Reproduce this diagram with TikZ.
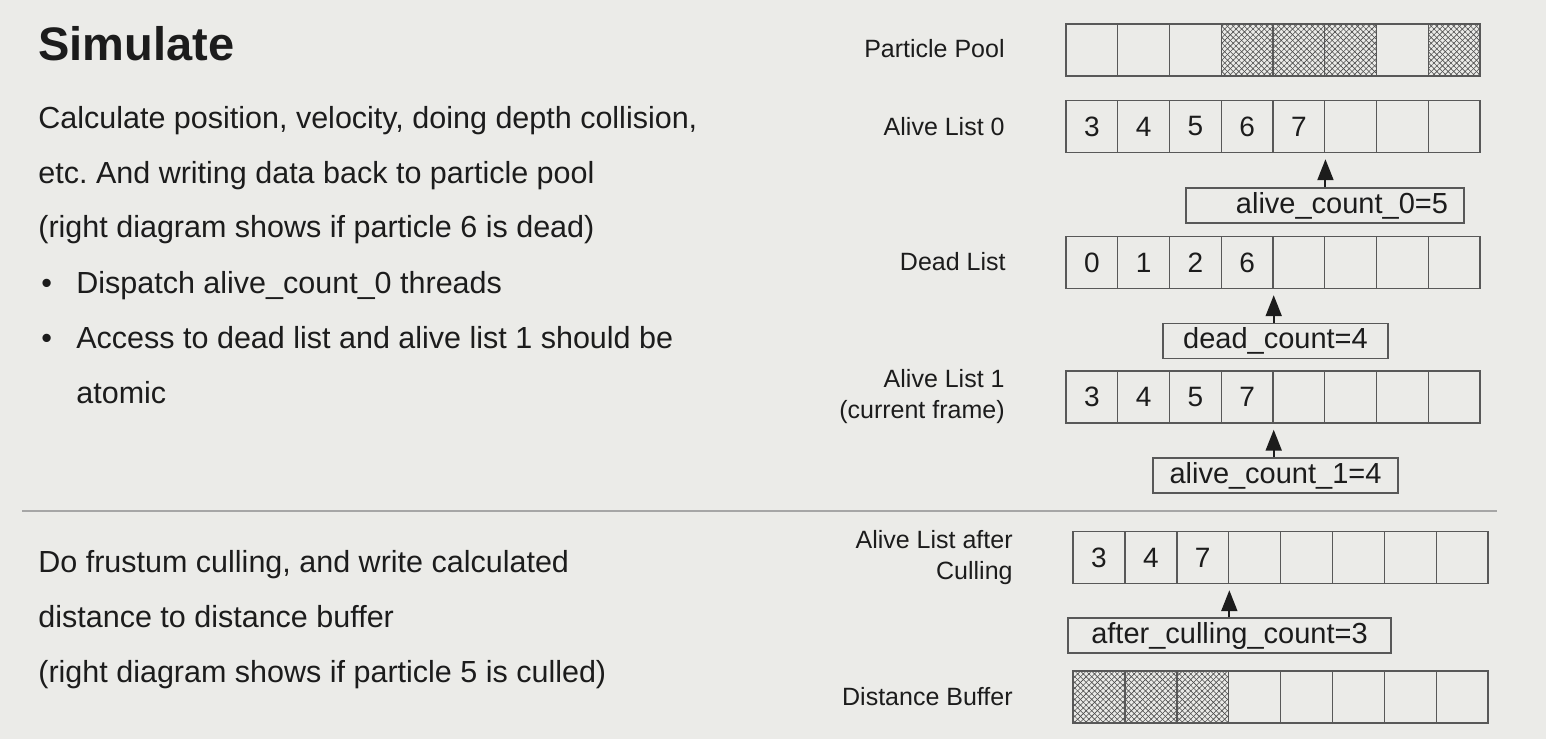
\documentclass[tikz,border=0pt]{standalone}
\usepackage{fontspec}
\setmainfont{Liberation Sans}
\usetikzlibrary{arrows.meta,patterns.meta}
\frenchspacing

\definecolor{slidebg}{HTML}{EBEBE8}
\definecolor{ink}{HTML}{1C1C1C}
\definecolor{gridline}{HTML}{585858}
\definecolor{sepgray}{HTML}{A6A6A6}

\tikzset{
  cell/.style={draw=gridline, line width=0.7pt, minimum width=25.875pt, minimum height=26pt,
    inner sep=0pt, text=ink, font=\fontsize{14}{16}\selectfont},
  hatched/.style={
    preaction={pattern={Lines[angle=45,distance=2pt,line width=0.3pt]}, pattern color=gray!60!black},
    preaction={pattern={Lines[angle=-45,distance=2pt,line width=0.3pt]}, pattern color=gray!60!black}},
  listlabel/.style={anchor=east, align=right, inner sep=0pt, text=ink,
    font=\fontsize{12.5}{15.5}\selectfont},
  countbox/.style={draw=gridline, line width=0.7pt, minimum height=17.5pt, inner sep=0pt,
    text=ink, font=\fontsize{14.5}{17}\selectfont},
  countarrow/.style={-{Triangle[width=8pt,length=10.5pt]}, line width=1pt, ink, shorten >=3pt},
  body/.style={anchor=base west, inner sep=0pt, text=ink, font=\fontsize{15.25}{18}\selectfont},
  heading/.style={anchor=base west, inner sep=0pt, text=ink, font=\fontsize{23.5}{28}\selectfont\bfseries}
}

\begin{document}
\begin{tikzpicture}[x=0.5pt,y=-0.5pt]
  \useasboundingbox (0,0) rectangle (1546,739);
  \fill[slidebg] (0,0) rectangle (1546,739);

  % left side text
  \node[heading] (title) at (38,60) {Simulate};
  \node[body] (calc1) at (38,128) {Calculate position, velocity, doing depth collision,};
  \node[body] (calc2) at (38,183) {etc. And writing data back to particle pool};
  \node[body] (calc3) at (38,237) {(right diagram shows if particle 6 is dead)};
  \node[body] (dot1) at (41,293) {•};
  \node[body] (item1) at (76,293) {Dispatch alive\_count\_0 threads};
  \node[body] (dot2) at (41,348) {•};
  \node[body] (item2) at (76,348) {Access to dead list and alive list 1 should be};
  \node[body] (item2b) at (76,403) {atomic};

  \draw[sepgray, line width=1pt] (22,511) -- (1497,511);

  \node[body] (cull1) at (38,572) {Do frustum culling, and write calculated};
  \node[body] (cull2) at (38,627) {distance to distance buffer};
  \node[body] (cull3) at (38,682) {(right diagram shows if particle 5 is culled)};

  % list labels
  \node[listlabel] (poollabel) at (1005,49) {Particle Pool};
  \node[listlabel] (alive0label) at (1005,127) {Alive List 0};
  \node[listlabel] (deadlabel) at (1006,262) {Dead List};
  \node[listlabel] (alive1label) at (1005,397) {Alive List 1\\(current frame)};
  \node[listlabel] (culllabel) at (1013,558) {Alive List after\\Culling};
  \node[listlabel] (distlabel) at (1013,697) {Distance Buffer};

  % particle pool
  \foreach \i/\s in {0/,1/,2/,3/hatched,4/hatched,5/hatched,6/,7/hatched}
    \node[cell,\s] (pool-\i) at ({1066+51.75*(\i+0.5)},50) {};

  % alive list 0
  \foreach \v [count=\i from 0] in {3,4,5,6,7,{},{},{}}
    \node[cell] (alive0-\i) at ({1066+51.75*(\i+0.5)},126.5) {\v};
  \node[countbox, minimum width=139pt, text width=123pt, align=right] (cnt0) at (1325,205.5) {alive\_count\_0=5};
  \draw[countarrow] (cnt0.north -| alive0-4.south east) -- (alive0-4.south east);

  % dead list
  \foreach \v [count=\i from 0] in {0,1,2,6,{},{},{},{}}
    \node[cell] (dead-\i) at ({1066+51.75*(\i+0.5)},262.5) {\v};
  \node[countbox, minimum width=112.5pt] (deadcnt) at (1275.5,341) {dead\_count=4};
  \draw[countarrow] (deadcnt.north -| dead-3.south east) -- (dead-3.south east);

  % alive list 1
  \foreach \v [count=\i from 0] in {3,4,5,7,{},{},{},{}}
    \node[cell] (alive1-\i) at ({1066+51.75*(\i+0.5)},397) {\v};
  \node[countbox, minimum width=122.5pt] (cnt1) at (1275.5,475.5) {alive\_count\_1=4};
  \draw[countarrow] (cnt1.north -| alive1-3.south east) -- (alive1-3.south east);

  % alive list after culling
  \foreach \v [count=\i from 0] in {3,4,7,{},{},{},{},{}}
    \node[cell] (cull-\i) at ({1073+51.9*(\i+0.5)},557.5) {\v};
  \node[countbox, minimum width=161.5pt] (cullcnt) at (1229.5,635.5) {after\_culling\_count=3};
  \draw[countarrow] (cullcnt.north -| cull-2.south east) -- (cull-2.south east);

  % distance buffer
  \foreach \i/\s in {0/hatched,1/hatched,2/hatched,3/,4/,5/,6/,7/}
    \node[cell,\s] (dist-\i) at ({1073+51.9*(\i+0.5)},697) {};
\end{tikzpicture}
\end{document}
